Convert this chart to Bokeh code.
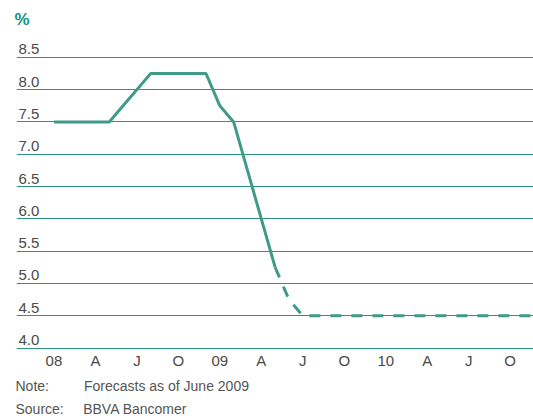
from bokeh.plotting import figure
from bokeh.models import FixedTicker, Range1d, Title
from bokeh.core.properties import value
from bokeh.embed import file_html
from bokeh.resources import INLINE

# Monthly index: 0 = Jan 2008 ... 35 = Dec 2010
actual_month = list(range(0, 17))
actual_rate = [7.5, 7.5, 7.5, 7.5, 7.5, 7.75, 8.0, 8.25, 8.25, 8.25, 8.25, 8.25,
               7.75, 7.5, 6.75, 6.0, 5.25]
forecast_month = list(range(16, 36))
forecast_rate = [5.25, 4.75, 4.5] + [4.5] * 17

x_tick_pos = [0, 3, 6, 9, 12, 15, 18, 21, 24, 27, 30, 33]
x_tick_labels = ["08", "A", "J", "O", "09", "A", "J", "O", "10", "A", "J", "O"]
y_ticks = [4.0, 4.5, 5.0, 5.5, 6.0, 6.5, 7.0, 7.5, 8.0, 8.5]
y_tick_labels = ["4.0", "4.5", "5.0", "5.5", "6.0", "6.5", "7.0", "7.5", "8.0", "8.5"]

X_START, X_END = -2.71, 34.69
Y_START, Y_END = 3.9, 8.9

TEAL = "#3f9a87"
GRID = "#2a9482"
FONT = "Liberation Sans"
LABEL = "#4a4a4a"
NB = "\u00a0"

p = figure(width=533, height=416, output_backend="svg", toolbar_location=None,
           x_range=Range1d(X_START, X_END), y_range=Range1d(Y_START, Y_END),
           min_border_left=16, min_border_right=0, min_border_top=31, min_border_bottom=62)
p.outline_line_color = None
p.background_fill_color = "white"
p.border_fill_color = "white"

p.xgrid.visible = False
p.ygrid.ticker = FixedTicker(ticks=y_ticks)
p.ygrid.grid_line_color = GRID
p.ygrid.grid_line_width = 1
p.yaxis.visible = False

p.xaxis.ticker = FixedTicker(ticks=x_tick_pos)
p.xaxis.major_label_overrides = {t: l for t, l in zip(x_tick_pos, x_tick_labels)}
p.xaxis.axis_line_color = None
p.xaxis.major_tick_line_color = None
p.xaxis.minor_tick_line_color = None
p.xaxis.major_tick_out = 0
p.xaxis.major_tick_in = 0
p.xaxis.major_label_standoff = -3
p.xaxis.major_label_text_font = FONT
p.xaxis.major_label_text_font_size = "15px"
p.xaxis.major_label_text_color = LABEL

# y tick labels sitting above the gridlines
p.text(x=[X_START] * len(y_ticks), y=y_ticks, text=y_tick_labels,
       x_offset=2, y_offset=-8, text_baseline="alphabetic", text_align="left",
       text_font=value(FONT), text_font_size="15px", text_color=LABEL)

p.line(actual_month, actual_rate, line_color=TEAL, line_width=3)
p.line(forecast_month, forecast_rate, line_color=TEAL, line_width=3, line_dash="11 10")

p.add_layout(Title(text="%", align="left", offset=-2, standoff=5,
                   text_font=FONT, text_font_style="bold", text_font_size="17px",
                   text_color="#12927f"), "above")

p.add_layout(Title(text="Note:" + NB * 9 + "Forecasts as of June 2009", align="left",
                   offset=-1, standoff=9, text_font=FONT, text_font_style="normal",
                   text_font_size="14px", text_color="#555555"), "below")
p.add_layout(Title(text="Source:" + NB * 5 + "BBVA Bancomer", align="left",
                   offset=-1, standoff=0, text_font=FONT, text_font_style="normal",
                   text_font_size="14px", text_color="#555555"), "below")

open("out.html", "w").write(file_html(p, INLINE))
